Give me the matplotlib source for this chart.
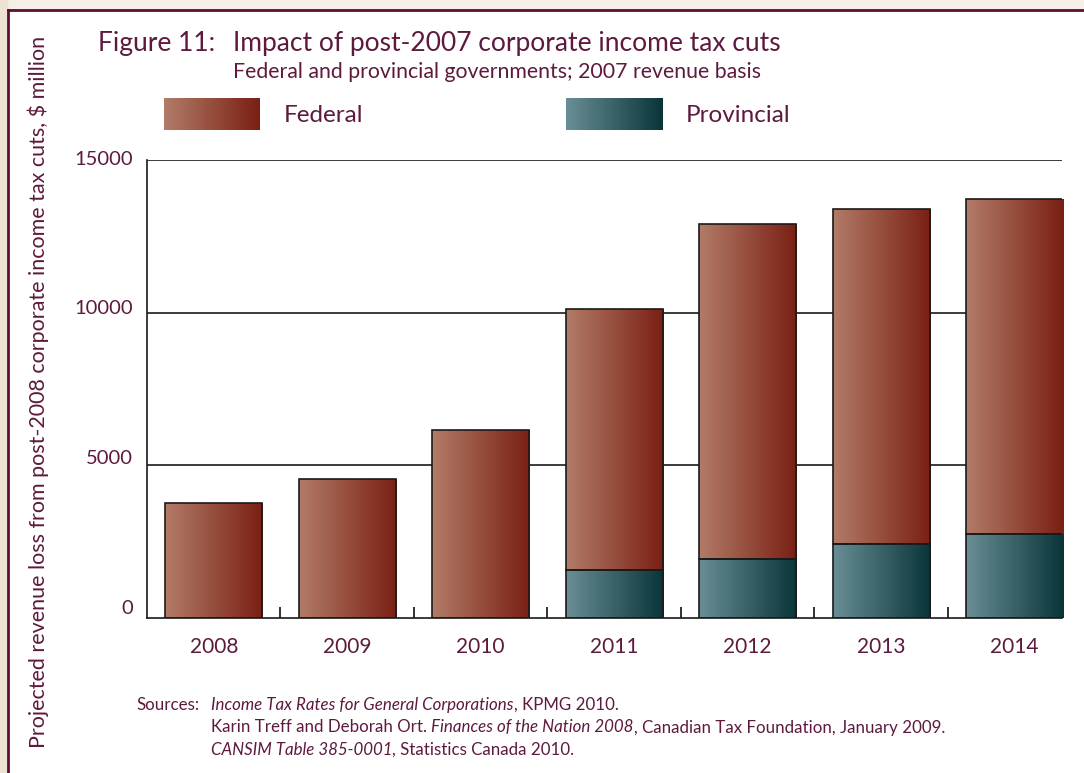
"""Figure 11 - projected revenue loss from post-2007 corporate income tax cuts.

Stacked bars (provincial at the bottom, federal on top) with a left-to-right
colour gradient in each bar, drawn on a framed cream/white page.
"""

import numpy as np
import matplotlib

matplotlib.use("Agg")  # headless
import matplotlib.pyplot as plt
from matplotlib.colors import LinearSegmentedColormap
from matplotlib.patches import Rectangle
from matplotlib.transforms import ScaledTranslation

YEARS = ["2008", "2009", "2010", "2011", "2012", "2013", "2014"]
# $ million
PROVINCIAL = [0, 0, 0, 1570, 1930, 2425, 2750]
FEDERAL = [3765, 4550, 6155, 8550, 10975, 10975, 10975]
Y_TICKS = [0, 5000, 10000, 15000]

TEXT = "#5e1a3e"
FRAME = "#5a1035"
FED_CMAP = LinearSegmentedColormap.from_list("fed", ["#b27c68", "#7a1f14"])
PROV_CMAP = LinearSegmentedColormap.from_list("prov", ["#6a8e96", "#093538"])

W, H = 1084, 773
plt.rcParams["font.family"] = ["Lato", "DejaVu Sans"]


def fx(px):
    return px / W


def fy(py):
    return 1 - py / H


def gradient_fill(ax, bars, cmap):
    grad = np.linspace(0, 1, 256).reshape(1, -1)
    for b in bars:
        x, y = b.get_x(), b.get_y()
        w, h = b.get_width(), b.get_height()
        if h <= 0:
            b.set_visible(False)
            continue
        im = ax.imshow(grad, cmap=cmap, aspect="auto", interpolation="bicubic",
                       extent=(x, x + w, y, y + h), zorder=2)
        im.set_clip_path(b)
        b.set_facecolor("none")


def main() -> None:
    fig = plt.figure(figsize=(W / 100, H / 100), dpi=100)
    fig.patch.set_facecolor("white")

    # page frame: beige strips with a maroon rule at top and left
    fig.patches.append(Rectangle((0, fy(9)), 1, 9 / H, transform=fig.transFigure,
                                 color="#f5efe6", zorder=0))
    fig.patches.append(Rectangle((0, 0), fx(7), 1, transform=fig.transFigure,
                                 color="#eee2d2", zorder=0))
    fig.add_artist(plt.Line2D([fx(8), 1], [fy(10), fy(10)], color=FRAME, lw=2))
    fig.add_artist(plt.Line2D([fx(8), fx(8)], [0, fy(10)], color=FRAME, lw=2))

    ax = fig.add_axes([fx(147), fy(618), fx(1062 - 147), (618 - 160) / H])
    x = np.arange(len(YEARS))
    prov = ax.bar(x, PROVINCIAL, width=0.73, edgecolor="#1a1a1a", lw=1.2, zorder=3)
    fed = ax.bar(x, FEDERAL, bottom=PROVINCIAL, width=0.73, edgecolor="#1a1a1a",
                 lw=1.2, zorder=3)
    gradient_fill(ax, prov, PROV_CMAP)
    gradient_fill(ax, fed, FED_CMAP)

    ax.set_xlim(-0.5, 6.354)
    ax.set_ylim(0, 15000)
    ax.set_yticks(Y_TICKS)
    ax.set_yticklabels([str(v) for v in Y_TICKS])
    ax.tick_params(axis="y", length=0, pad=10, labelsize=14.5, labelcolor=TEXT)
    # the original labels sit a little above their gridlines, more so near zero
    for lab, dy in zip(ax.get_yticklabels(), [11, 8, 6, 2]):
        lab.set_transform(lab.get_transform()
                          + ScaledTranslation(0, dy / 100, fig.dpi_scale_trans))
    ax.set_xticks(x)
    ax.set_xticklabels(YEARS)
    ax.tick_params(axis="x", which="major", length=0, pad=14, labelsize=15,
                   labelcolor=TEXT)
    ax.set_xticks(x[:-1] + 0.5, minor=True)
    ax.tick_params(axis="x", which="minor", direction="in", length=8,
                   width=1.3, color="#222222")
    for v in Y_TICKS[1:]:
        ax.axhline(v, color="#1a1a1a", lw=1.2, zorder=1)
    for side in ("top", "right"):
        ax.spines[side].set_visible(False)
    for side in ("left", "bottom"):
        ax.spines[side].set_color("#1a1a1a")
        ax.spines[side].set_linewidth(1.2)
    ax.set_facecolor("none")

    # titles
    fig.text(fx(98), fy(51), "Figure 11:", fontsize=19, color=TEXT, va="baseline")
    fig.text(fx(233), fy(51), "Impact of post-2007 corporate income tax cuts",
             fontsize=19, color=TEXT, va="baseline")
    fig.text(fx(233), fy(78), "Federal and provincial governments; 2007 revenue basis",
             fontsize=15.3, color=TEXT, va="baseline")

    # legend swatches
    grad = np.linspace(0, 1, 256).reshape(1, -1)
    for x0, cmap, label in ((164, FED_CMAP, "Federal"), (566, PROV_CMAP, "Provincial")):
        lax = fig.add_axes([fx(x0), fy(130), fx(96), 32 / H])
        lax.imshow(grad, cmap=cmap, aspect="auto", interpolation="bicubic")
        lax.set_axis_off()
        fig.text(fx(x0 + 120), fy(116), label, fontsize=17.5, color=TEXT, va="center")

    fig.text(fx(38), fy(392),
             "Projected revenue loss from post-2008 corporate income tax cuts, $ million",
             rotation=90, fontsize=15.5, color=TEXT, ha="center", va="center")

    # sources
    fig.text(fx(136), fy(705), "Sources:", fontsize=12.2, color=TEXT, va="center")
    src_lines = [
        [("Income Tax Rates for General Corporations", "italic"), (", KPMG 2010.", "normal")],
        [("Karin Treff and Deborah Ort. ", "normal"), ("Finances of the Nation 2008", "italic"),
         (", Canadian Tax Foundation, January 2009.", "normal")],
        [("CANSIM Table 385-0001", "italic"), (", Statistics Canada 2010.", "normal")],
    ]
    renderer = fig.canvas.get_renderer()
    for i, parts in enumerate(src_lines):
        xpos = fx(211)
        for txt, style in parts:
            t = fig.text(xpos, fy(705 + 22.5 * i), txt, fontsize=12.2, color=TEXT,
                         style=style, va="center")
            bb = t.get_window_extent(renderer=renderer)
            xpos += bb.width / W

    fig.savefig("out.png", dpi=100)


if __name__ == "__main__":
    main()
